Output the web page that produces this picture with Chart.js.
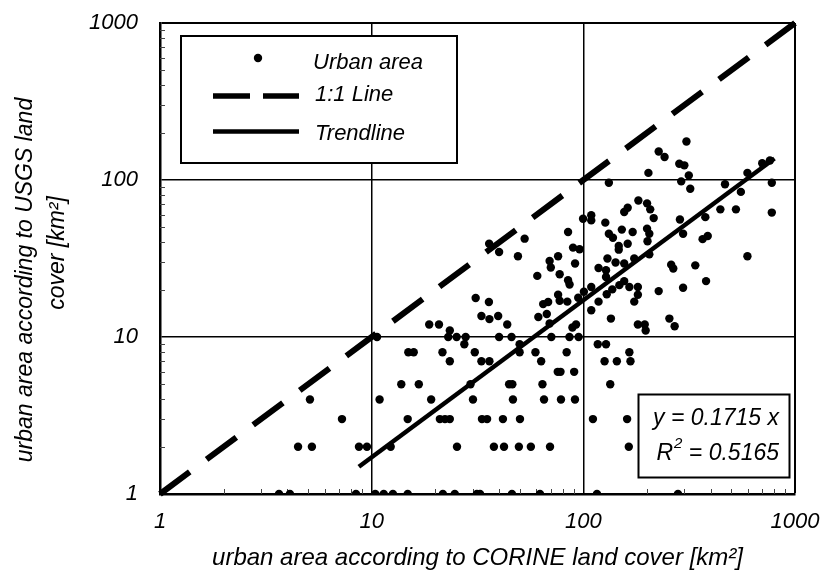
<!DOCTYPE html>
<html><head><meta charset="utf-8">
<script src="https://cdn.jsdelivr.net/npm/chart.js@4.4.1/dist/chart.umd.min.js"></script>
<style>html,body{margin:0;padding:0;background:#fff;}canvas{display:block;}</style>
</head><body>
<canvas id="c" width="820" height="572"></canvas>
<script>
// ---- data ----
const corineX = [
 3.65,4.11,8.43,10.4,11.4,12.6,14.8,21.7,24.7,31.4,32.5,46,62.4,116,280,
 4.49,5.22,8.71,9.5,12.3,25.3,37.8,42.2,49.6,56.5,69.6,164,
 7.24,14.8,21,22.2,23.4,33.2,35.1,41.7,50.2,111,161,
 5.11,10.9,19.1,30.1,46.5,65.2,78.4,91.3,
 13.8,16.7,29.3,44.6,46.2,64.1,134,
 75.7,78,90.5,
 23.4,33,36,63.2,126,144,167,
 14.9,15.8,21.6,30.7,50,59.4,83.4,165,
 27.4,50,117,128,
 10.6,23,25.2,27.8,40,45.8,70.6,86,95,
 23.4,197,
 18.7,20.8,43.7,88.8,92.4,181,195,270,69.3,
 33,36,39.6,61.3,67.2,135,255,
 35.9,40,49.1,52.8,84.7,69.3,76,70.2,77.3,60.6,76,77.3,84,64.6,68.2,31,35.8,84.7,86.1,91.4,89.4,96,99.7,109,109,
 307,227,242,284,300,315,203,132,290,320,467,596,761,700,777,555,777,526,444,377,286,296,387,366,596,338,260,266,380,296,227,
 182,200,207,162,156,215,127,152,171,132,138,200,205,201,162,147,147,130,142,156,174,205,118,128,128,156,165,181,148,137,129,181,174,109,100.6,118,109,94.6
];
const usgsY = [
 1,1,1,1,1,1,1,1,1,1,1,1,1,1,1,
 2,2,2,2,2,2,2,2,2,2,2,2,
 3,3,3,3,3,3,3,3,3,3,3,
 4,4,4,4,4,4,4,4,
 5,5,5,5,5,5,5,
 6,6,6,
 7,7,7,7,7,7,7,
 8,8,8,8,8,8,8,8,
 9,9,9,9,
 10,10,10,10,10,10,10,10,10,
 11,11,
 12,12,12,11.5,12,12,12,11.7,12.2,
 13.6,13,13.6,13.4,14,13.1,13.1,
 39.3,34.8,32.7,42.3,46.6,30.5,32.7,27.7,25.1,24.5,18.6,17,16.8,16.2,16.7,17.7,16.7,23,21.6,29.4,37.1,36.2,56.7,59.6,55.3,
 176,152,140,127,124,107,111,96,98,88,94,111,133,128,96,84,62,65,65,58,56,45.5,44,42,32.7,28.6,28.9,27.3,22.7,20.6,19.6,
 74,71,65,66.6,62.5,57.2,53.5,48.3,46.6,45.5,42.9,49,45.5,40.7,39.3,38,36,31.6,29.8,29.4,31.6,33.6,27.5,26.6,24.1,22.7,20.8,20.8,21.4,20.1,18.7,18.6,16.8,20.8,19.4,16.8,14.8,17.8
];
const oneToOneX = [1, 1000];
const oneToOneY = [1, 1000];
const trendX = [8.7, 800];
const trendY = [1.49, 137.2];
const tickValues = [1, 10, 100, 1000];
const minorMultipliers = [2, 3, 4, 5, 6, 7, 8, 9];
const xTitle = 'urban area according to CORINE land cover [km²]';
const yTitleLines = ['urban area according to USGS land', 'cover [km²]'];
const legendLabels = ['Urban area', '1:1 Line', 'Trendline'];
const equationText = 'y = 0.1715 x';
const r2Value = '0.5165';

const FONT = '"Liberation Sans", Arial, sans-serif';
const toPts = (xs, ys) => xs.map((v, i) => ({x: v, y: ys[i]}));

const decor = {
  id: 'decor',
  beforeDatasetsDraw(chart) {
    const {ctx, chartArea: a, scales: {x, y}} = chart;
    ctx.save();
    ctx.strokeStyle = '#444'; ctx.lineWidth = 1;
    for (let d = 1; d < 1000; d *= 10) {
      for (const m of minorMultipliers) {
        const v = d * m;
        const px = Math.round(x.getPixelForValue(v)) + 0.5;
        ctx.beginPath(); ctx.moveTo(px, a.bottom); ctx.lineTo(px, a.bottom - 5); ctx.stroke();
        const py = Math.round(y.getPixelForValue(v)) + 0.5;
        ctx.beginPath(); ctx.moveTo(a.left, py); ctx.lineTo(a.left + 5, py); ctx.stroke();
      }
    }
    ctx.restore();
  },
  afterDraw(chart) {
    const {ctx, chartArea: a} = chart;
    ctx.save();
    ctx.fillStyle = '#000';
    // y axis title (two lines)
    ctx.font = 'italic 23px ' + FONT;
    ctx.textAlign = 'center'; ctx.textBaseline = 'middle';
    const yl = [[26, 280], [58, 253]];
    yTitleLines.forEach((t, i) => {
      ctx.save(); ctx.translate(yl[i][0], yl[i][1]); ctx.rotate(-Math.PI / 2);
      ctx.fillText(t, 0, 0); ctx.restore();
    });
    // legend box
    const lx = a.left + 21, ly = a.top + 13, lw = 276, lh = 127;
    ctx.fillStyle = '#fff'; ctx.fillRect(lx, ly, lw, lh);
    ctx.strokeStyle = '#000'; ctx.lineWidth = 2; ctx.strokeRect(lx, ly, lw, lh);
    ctx.fillStyle = '#000';
    ctx.beginPath(); ctx.arc(lx + 77, ly + 22, 4.2, 0, Math.PI * 2); ctx.fill();
    ctx.lineCap = 'butt';
    ctx.lineWidth = 5.5; ctx.setLineDash([37, 13]);
    ctx.beginPath(); ctx.moveTo(lx + 32, ly + 60); ctx.lineTo(lx + 118, ly + 60); ctx.stroke();
    ctx.setLineDash([]); ctx.lineWidth = 4.5;
    ctx.beginPath(); ctx.moveTo(lx + 32, ly + 95.5); ctx.lineTo(lx + 118, ly + 95.5); ctx.stroke();
    ctx.font = 'italic 22px ' + FONT; ctx.textAlign = 'left'; ctx.textBaseline = 'middle';
    ctx.fillText(legendLabels[0], lx + 132, ly + 27);
    ctx.fillText(legendLabels[1], lx + 134, ly + 59);
    ctx.fillText(legendLabels[2], lx + 134, ly + 98);
    // equation box
    const bx = 638.5, by = 394.5, bw = 151, bh = 83;
    ctx.fillStyle = '#fff'; ctx.fillRect(bx, by, bw, bh);
    ctx.lineWidth = 2; ctx.strokeRect(bx, by, bw, bh);
    ctx.fillStyle = '#000';
    ctx.font = 'italic 23px ' + FONT; ctx.textAlign = 'right';
    ctx.fillText(equationText, 779, 419);
    const rest = ' = ' + r2Value;
    const wRest = ctx.measureText(rest).width;
    const wR = ctx.measureText('R').width;
    ctx.font = 'italic 15px ' + FONT;
    const w2 = ctx.measureText('2').width;
    let x0 = 779 - wRest - w2 - wR - 1;
    ctx.textAlign = 'left';
    ctx.font = 'italic 23px ' + FONT; ctx.fillText('R', x0, 454);
    ctx.font = 'italic 15px ' + FONT; ctx.fillText('2', x0 + wR + 1, 444);
    ctx.font = 'italic 23px ' + FONT; ctx.fillText(rest, x0 + wR + w2 + 1, 454);
    ctx.restore();
  }
};

const zeroPad = s => { s.paddingTop = 0; s.paddingBottom = 0; s.paddingLeft = 0; s.paddingRight = 0; };

const axisCommon = () => ({
  type: 'logarithmic', min: 1, max: 1000,
  afterBuildTicks: s => { s.ticks = tickValues.map(v => ({value: v})); },
  grid: { color: '#000', lineWidth: c => (c.tick && (c.tick.value === 1000)) ? 2 : 1.5, drawTicks: false },
  border: { display: true, color: '#000', width: 2.5 },
});

new Chart(document.getElementById('c'), {
  type: 'scatter',
  data: { datasets: [
    { label: legendLabels[0], data: toPts(corineX, usgsY), pointRadius: 4.2, pointStyle: 'circle',
      backgroundColor: '#000', borderColor: '#000', pointBorderWidth: 0, showLine: false },
    { label: legendLabels[1], data: toPts(oneToOneX, oneToOneY), showLine: true, pointRadius: 0,
      borderColor: '#000', borderWidth: 6, borderDash: [37, 21], borderCapStyle: 'butt', tension: 0, clip: 6 },
    { label: legendLabels[2], data: toPts(trendX, trendY), showLine: true, pointRadius: 0,
      borderColor: '#000', borderWidth: 4.5, borderCapStyle: 'butt', tension: 0 }
  ]},
  options: {
    responsive: false, animation: false, devicePixelRatio: 1,
    layout: { autoPadding: false, padding: { top: 23, right: 25, left: 0, bottom: 0 } },
    plugins: { legend: { display: false }, tooltip: { enabled: false } },
    scales: {
      x: Object.assign(axisCommon(), {
        afterFit: s => { s.height = 78; zeroPad(s); },
        ticks: { callback: v => String(v), font: { family: FONT, size: 22, style: 'italic' }, color: '#000', padding: 15, maxRotation: 0, autoSkip: false },
        title: { display: true, text: xTitle, color: '#000', font: { family: FONT, size: 24, style: 'italic' }, padding: { top: 0, bottom: -1 } }
      }),
      y: Object.assign(axisCommon(), {
        afterFit: s => { s.width = 160; zeroPad(s); },
        ticks: { callback: v => String(v), font: { family: FONT, size: 22, style: 'italic' }, color: '#000', padding: 22, autoSkip: false }
      })
    }
  },
  plugins: [decor]
});
</script>
</body></html>
